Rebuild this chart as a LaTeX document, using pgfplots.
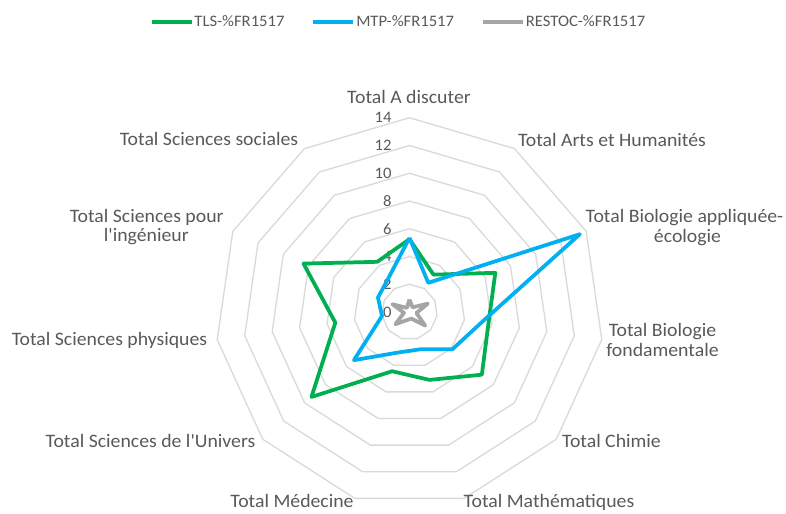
\documentclass[border=0pt]{standalone}
\usepackage{fontspec}
\setmainfont{Carlito}[Ligatures=TeXOff, FakeStretch=1.04]
\usepackage{pgfplots}
\usepackage{pgfplotstable}
\pgfplotsset{compat=1.18}
\usepgfplotslibrary{polar}
\definecolor{tls}{HTML}{00B050}
\definecolor{mtp}{HTML}{00B0F0}
\definecolor{restoc}{HTML}{A5A5A5}
\definecolor{ringc}{HTML}{D9D9D9}
\definecolor{txt}{HTML}{595959}
% k = category index (0 = Total A discuter, clockwise); row 11 closes the loop
\pgfplotstableread{
k  tls   mtp   restoc
0  5.25  5.35  0.9
1  3.2   2.5   0.4
2  6.8   13.5  1.45
3  5.75  5.25  0.5
4  6.9   4.1   1.5
5  5.1   2.8   0.5
6  4.45  3.05  0.6
7  9.35  5.3   1.35
8  5.4   2.0   0.4
9  8.4   2.5   1.35
10 4.3   2.85  0.35
11 5.25  5.35  0.9
}\radar
\begin{document}
\begin{tikzpicture}
\useasboundingbox (-409.5bp,-202bp) rectangle (376.5bp,312bp);
\begin{polaraxis}[
  at={(0,0)}, anchor=center,
  width=388.5bp, height=388.5bp, scale only axis,
  ymin=0, ymax=14, xmin=0, xmax=360,
  hide axis, clip=false, no marks,
  legend columns=3,
  legend style={at={(0.4704,1.2465)}, anchor=center, draw=none, fill=none,
    font=\fontsize{16bp}{20bp}\selectfont, text=txt,
    /tikz/every even column/.append style={column sep=26bp},
    nodes={inner sep=1bp}},
  legend image code/.code={\draw[#1] (0bp,0bp) -- (40bp,0bp);},
]
\pgfplotsinvokeforeach{2,4,...,14}{
  \addplot[ringc, line width=1.3bp, forget plot] table[x expr={90-\thisrow{k}*360/11}, y expr=#1] {\radar};
}
\pgfplotsinvokeforeach{0,2,...,14}{
  \node[anchor=east, inner sep=0pt, text=txt, font=\fontsize{16bp}{19bp}\selectfont, xshift=-17.8bp] at (axis cs:90,#1) {#1};
}
\addplot[tls, line width=3.75bp, line join=round] table[x expr={90-\thisrow{k}*360/11}, y=tls] {\radar};
\addplot[mtp, line width=3.75bp, line join=round] table[x expr={90-\thisrow{k}*360/11}, y=mtp] {\radar};
\addplot[restoc, line width=3.75bp, line join=round] table[x expr={90-\thisrow{k}*360/11}, y=restoc] {\radar};
\legend{TLS-\%FR1517, MTP-\%FR1517, RESTOC-\%FR1517}
\end{polaraxis}
\begin{scope}[every node/.style={anchor=base, inner sep=0pt, text=txt, font=\fontsize{19bp}{23bp}\selectfont}]
\node at (-0.5bp,208.5bp) {Total A discuter};
\node at (202.5bp,165.5bp) {Total Arts et Humanités};
\node at (275bp,89.5bp) {Total Biologie appliquée-};
\node at (278bp,69.5bp) {écologie};
\node at (253bp,-24bp) {Total Biologie};
\node at (253bp,-44bp) {fondamentale};
\node at (202bp,-135bp) {Total Chimie};
\node at (139.5bp,-195bp) {Total Mathématiques};
\node at (-117.5bp,-195bp) {Total Médecine};
\node at (-259bp,-135bp) {Total Sciences de l'Univers};
\node at (-300bp,-33bp) {Total Sciences physiques};
\node at (-262.8bp,89.3bp) {Total Sciences pour};
\node at (-263.2bp,70.3bp) {l'ingénieur};
\node at (-200.5bp,166bp) {Total Sciences sociales};
\end{scope}
\end{tikzpicture}
\end{document}
